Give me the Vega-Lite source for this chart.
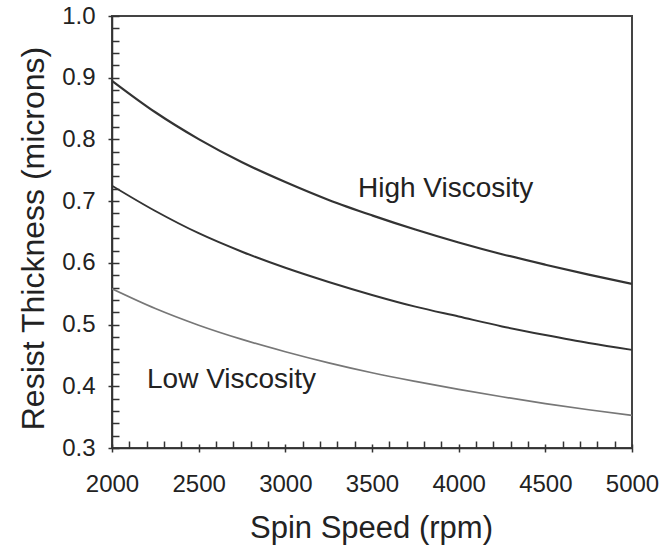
{
  "$schema": "https://vega.github.io/schema/vega-lite/v6.json",
  "width": 520,
  "height": 432,
  "autosize": "none",
  "padding": {"left": 112, "top": 16, "right": 30, "bottom": 97},
  "background": "white",
  "config": {
    "font": "Liberation Sans",
    "view": {"stroke": "#444", "strokeWidth": 2}
  },
  "datasets": {
    "curves": [
      {"rpm": 2000, "thickness": 0.895, "series": "High"},
      {"rpm": 2250, "thickness": 0.844, "series": "High"},
      {"rpm": 2500, "thickness": 0.8005, "series": "High"},
      {"rpm": 2750, "thickness": 0.763, "series": "High"},
      {"rpm": 3000, "thickness": 0.731, "series": "High"},
      {"rpm": 3250, "thickness": 0.702, "series": "High"},
      {"rpm": 3500, "thickness": 0.677, "series": "High"},
      {"rpm": 3750, "thickness": 0.654, "series": "High"},
      {"rpm": 4000, "thickness": 0.633, "series": "High"},
      {"rpm": 4250, "thickness": 0.614, "series": "High"},
      {"rpm": 4500, "thickness": 0.597, "series": "High"},
      {"rpm": 4750, "thickness": 0.581, "series": "High"},
      {"rpm": 5000, "thickness": 0.566, "series": "High"},
      {"rpm": 2000, "thickness": 0.725, "series": "Medium"},
      {"rpm": 2250, "thickness": 0.684, "series": "Medium"},
      {"rpm": 2500, "thickness": 0.648, "series": "Medium"},
      {"rpm": 2750, "thickness": 0.618, "series": "Medium"},
      {"rpm": 3000, "thickness": 0.592, "series": "Medium"},
      {"rpm": 3250, "thickness": 0.569, "series": "Medium"},
      {"rpm": 3500, "thickness": 0.548, "series": "Medium"},
      {"rpm": 3750, "thickness": 0.529, "series": "Medium"},
      {"rpm": 4000, "thickness": 0.513, "series": "Medium"},
      {"rpm": 4250, "thickness": 0.497, "series": "Medium"},
      {"rpm": 4500, "thickness": 0.483, "series": "Medium"},
      {"rpm": 4750, "thickness": 0.470, "series": "Medium"},
      {"rpm": 5000, "thickness": 0.459, "series": "Medium"},
      {"rpm": 2000, "thickness": 0.558, "series": "Low"},
      {"rpm": 2250, "thickness": 0.526, "series": "Low"},
      {"rpm": 2500, "thickness": 0.499, "series": "Low"},
      {"rpm": 2750, "thickness": 0.476, "series": "Low"},
      {"rpm": 3000, "thickness": 0.456, "series": "Low"},
      {"rpm": 3250, "thickness": 0.438, "series": "Low"},
      {"rpm": 3500, "thickness": 0.422, "series": "Low"},
      {"rpm": 3750, "thickness": 0.408, "series": "Low"},
      {"rpm": 4000, "thickness": 0.395, "series": "Low"},
      {"rpm": 4250, "thickness": 0.383, "series": "Low"},
      {"rpm": 4500, "thickness": 0.372, "series": "Low"},
      {"rpm": 4750, "thickness": 0.362, "series": "Low"},
      {"rpm": 5000, "thickness": 0.353, "series": "Low"}
    ],
    "labels": [
      {"rpm": 3419, "thickness": 0.707, "label": "High Viscosity"},
      {"rpm": 2202, "thickness": 0.397, "label": "Low Viscosity"}
    ]
  },
  "layer": [
    {
      "data": {"name": "curves"},
      "mark": {"type": "line", "interpolate": "monotone", "clip": true},
      "encoding": {
        "x": {
          "field": "rpm", "type": "quantitative",
          "scale": {"domain": [2000, 5000], "nice": false, "zero": false},
          "axis": {
            "orient": "bottom",
            "values": [2000, 2500, 3000, 3500, 4000, 4500, 5000],
            "format": "d",
            "grid": false,
            "domainColor": "#333", "domainWidth": 1.5,
            "tickColor": "#333", "tickWidth": 1.5, "tickSize": 4,
            "labelFontSize": 24, "labelColor": "#222", "labelPadding": 20,
            "labelFlush": false, "labelOverlap": false,
            "title": "Spin Speed (rpm)",
            "titleFontSize": 31, "titleFontWeight": "normal", "titleColor": "#222",
            "titleBaseline": "alphabetic", "titleAnchor": "middle",
            "titleX": 259, "titleY": 89
          }
        },
        "y": {
          "field": "thickness", "type": "quantitative",
          "scale": {"domain": [0.3, 1.0], "nice": false, "zero": false},
          "axis": {
            "orient": "left",
            "values": [0.3, 0.4, 0.5, 0.6, 0.7, 0.8, 0.9, 1.0],
            "format": ".1f",
            "grid": false,
            "domainColor": "#333", "domainWidth": 1.5,
            "tickColor": "#333", "tickWidth": 1.5, "tickSize": 4,
            "labelFontSize": 24, "labelColor": "#222", "labelPadding": 13,
            "labelFlush": false, "labelOverlap": false,
            "title": "Resist Thickness (microns)",
            "titleFontSize": 32, "titleFontWeight": "normal", "titleColor": "#222",
            "titleAngle": -90, "titleBaseline": "alphabetic", "titleAlign": "center",
            "titleX": -69, "titleY": 222
          }
        },
        "detail": {"field": "series", "type": "nominal"},
        "color": {
          "field": "series", "type": "nominal",
          "scale": {"domain": ["High", "Medium", "Low"], "range": ["#333333", "#333333", "#777777"]},
          "legend": null
        },
        "strokeWidth": {
          "field": "series", "type": "nominal",
          "scale": {"domain": ["High", "Medium", "Low"], "range": [2.2, 1.7, 1.5]},
          "legend": null
        }
      }
    },
    {
      "data": {"name": "labels"},
      "mark": {"type": "text", "align": "left", "baseline": "alphabetic", "fontSize": 28, "color": "#222"},
      "encoding": {
        "x": {
          "field": "rpm", "type": "quantitative",
          "axis": {
            "orient": "bottom",
            "values": [2000, 2100, 2200, 2300, 2400, 2500, 2600, 2700, 2800, 2900, 3000, 3100, 3200, 3300, 3400, 3500, 3600, 3700, 3800, 3900, 4000, 4100, 4200, 4300, 4400, 4500, 4600, 4700, 4800, 4900, 5000],
            "labels": false, "domain": false, "grid": false, "title": null,
            "tickColor": "#333", "tickWidth": 1.5,
            "tickSize": {"condition": {"test": "datum.value % 500 === 0", "value": -4}, "value": -7}
          }
        },
        "y": {
          "field": "thickness", "type": "quantitative",
          "axis": {
            "orient": "left",
            "values": [0.3, 0.32, 0.34, 0.36, 0.38, 0.4, 0.42, 0.44, 0.46, 0.48, 0.5, 0.52, 0.54, 0.56, 0.58, 0.6, 0.62, 0.64, 0.66, 0.68, 0.7, 0.72, 0.74, 0.76, 0.78, 0.8, 0.82, 0.84, 0.86, 0.88, 0.9, 0.92, 0.94, 0.96, 0.98, 1.0],
            "labels": false, "domain": false, "grid": false, "title": null,
            "tickColor": "#333", "tickWidth": 1.5,
            "tickSize": -7
          }
        },
        "text": {"field": "label", "type": "nominal"}
      }
    }
  ],
  "resolve": {"axis": {"x": "independent", "y": "independent"}}
}
